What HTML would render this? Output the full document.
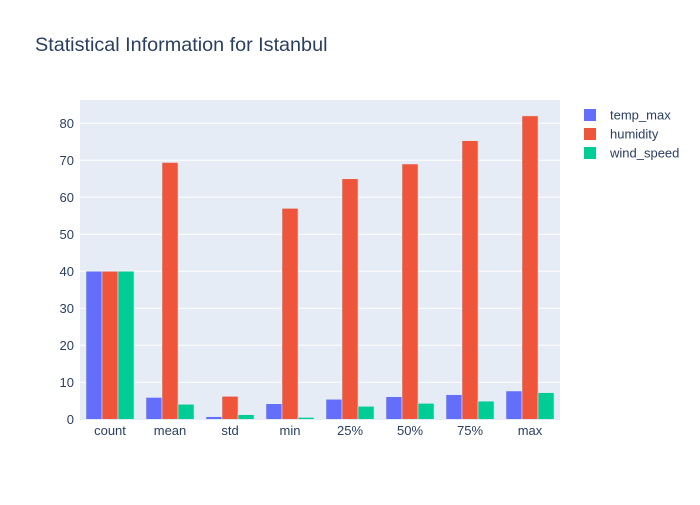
<!DOCTYPE html>
<html><head><style>
body{margin:0;background:#fff;font-family:"Liberation Sans",Arial,sans-serif;}
text{font-family:"Liberation Sans",Arial,sans-serif;}
</style></head><body>
<svg id="c" width="700" height="500">
<rect width="700" height="500" fill="#fff"/>
<text x="35" y="51" font-size="19.8" fill="#2a3f5f">Statistical Information for Istanbul</text>
<rect x="80" y="100" width="480" height="320" fill="#e5ecf6"/>
<g id="grid"></g><g id="bars"></g><g id="axes"></g><g id="legend"></g>
</svg>
<script>
const categories=["count","mean","std","min","25%","50%","75%","max"];
const seriesNames=["temp_max","humidity","wind_speed"];
const tempMax=[40,5.9,0.7,4.2,5.4,6.1,6.65,7.65];
const humidity=[40,69.4,6.2,57,65,69,75.3,82];
const windSpeed=[40,4.05,1.25,0.5,3.5,4.3,4.9,7.2];
const yTicks=[0,10,20,30,40,50,60,70,80];
const colors=["#636efa","#EF553B","#00cc96"];
const NS="http://www.w3.org/2000/svg";
const X0=80,W=480,Y0=419.3,PX=3.7;
const y=v=>Y0-v*PX;
const band=W/categories.length;
function mk(tag,attrs,parent){const e=document.createElementNS(NS,tag);for(const k in attrs)e.setAttribute(k,attrs[k]);document.getElementById(parent).appendChild(e);return e;}
yTicks.forEach(t=>{
  if(t>0){const l=mk("line",{x1:X0,x2:X0+W,y1:y(t),y2:y(t),stroke:"#fff","stroke-width":1},"grid");
  
  }
  const tx=mk("text",{x:X0-6,y:y(t)+4.5,"text-anchor":"end","font-size":13,fill:"#2a3f5f"},"axes");
  tx.textContent=t;
  
  
});
const data=[tempMax,humidity,windSpeed];
const bw=band*0.8/3;
categories.forEach((c,i)=>{
  const cx=X0+band*(i+0.5);
  data.forEach((s,j)=>{
    const r=mk("rect",{x:cx-band*0.4+j*bw,y:y(s[i]),width:bw,height:Y0-y(s[i]),fill:colors[j],stroke:"#e5ecf6","stroke-width":0.5},"bars");
    
    
  });
  const tx=mk("text",{x:cx,y:435,"text-anchor":"middle","font-size":13,fill:"#2a3f5f"},"axes");
  tx.textContent=c;
  
  
});
seriesNames.forEach((n,j)=>{
  const yy=115+j*19;
  const r=mk("rect",{x:584,y:yy-6,width:12,height:12,fill:colors[j]},"legend");
  
  
  const t=mk("text",{x:610,y:yy+4.5,"font-size":13,fill:"#2a3f5f"},"legend");
  t.textContent=n;
  
  
});
</script>
</body></html>
